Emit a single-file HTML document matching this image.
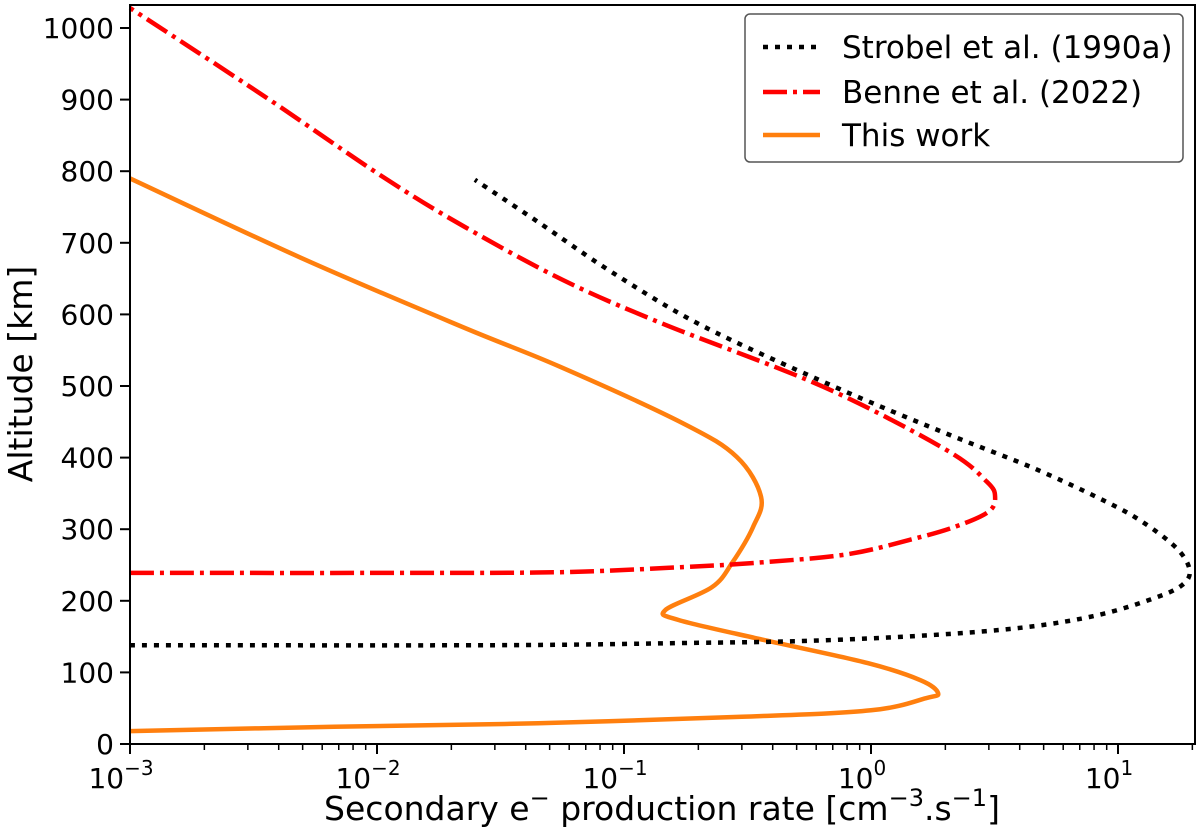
<!DOCTYPE html>
<html><head><meta charset="utf-8"><style>
html,body{margin:0;padding:0;background:#fff;}
svg{display:block;font-family:"DejaVu Sans","Liberation Sans",sans-serif;}
</style></head><body>
<svg id="chart" width="1200" height="836" viewBox="0 0 1200 836" xmlns="http://www.w3.org/2000/svg">
<g id="marks"></g>
<g id="axes"></g>
<text x="0" y="0" transform="translate(32,374) rotate(-90)" text-anchor="middle" font-size="33">Altitude [km]</text>
<text x="662" y="820" text-anchor="middle" font-size="33">Secondary e<tspan dy="-14" font-size="24">−</tspan><tspan dy="14"> production rate [cm</tspan><tspan dy="-14" font-size="24">−3</tspan><tspan dy="14">.s</tspan><tspan dy="-14" font-size="24">−1</tspan><tspan dy="14">]</tspan></text>
<g>
<rect x="745" y="14" width="438" height="148" rx="5" fill="#fff" stroke="#555" stroke-width="1.5"/>
<line x1="763" y1="47" x2="820" y2="47" stroke="#000" stroke-width="4.5" stroke-dasharray="5 7"/>
<text x="842" y="58" font-size="31">Strobel et al. (1990a)</text>
<line x1="763" y1="92" x2="820" y2="92" stroke="#f00" stroke-width="4.5" stroke-dasharray="24 6 4 6"/>
<text x="842" y="103" font-size="31">Benne et al. (2022)</text>
<line x1="763" y1="135" x2="820" y2="135" stroke="#ff7f0e" stroke-width="4.5"/>
<text x="842" y="146" font-size="31">This work</text>
</g>
</svg>
<script>
const strobelX = [0.001,0.03,0.173,0.55,1.73,4.2,8.3,14.1,18.2,19.5,17.2,12.2,8.3,4.5,2.33,1.23,0.64,0.205,0.0893,0.0449,0.0249];
const strobelAlt = [138,138,141,144,152,163,180,204,222,243,274,313,344,386,425,464,506,585,659,729,788];
const benneX = [0.001,0.0124,0.055,0.173,0.372,0.80,1.43,2.17,2.98,3.18,2.95,2.01,0.64,0.141,0.0566,0.0227,0.01057,0.00352,0.001];
const benneAlt = [239,239,240,247,254,265,285,303,324,345,366,411,499,588,648,722,792,904,1028];
const thisX = [0.001,0.0067,0.0449,0.30,1.0,1.67,1.87,1.59,0.97,0.372,0.167,0.147,0.227,0.274,0.333,0.359,0.286,0.173,0.055,0.0227,0.00492,0.001];
const thisAlt = [18,24,29,38,47,64,71,89,113,145,173,187,219,253,303,345,401,448,527,581,679,790];
const xTickLabels = ["−3","−2","−1","0","1"];
const yTicks = [0,100,200,300,400,500,600,700,800,900,1000];

const L=130,R=1195,T=5,B=744;
const sx=v=>L+(Math.log10(v)+3)*247;
const sy=a=>B-a*0.716;
const NS="http://www.w3.org/2000/svg";
const marks=document.getElementById('marks'), axes=document.getElementById('axes');
function mk(tag,attrs,parent){const e=document.createElementNS(NS,tag);for(const k in attrs)e.setAttribute(k,attrs[k]);parent.appendChild(e);return e;}

const defs=mk('defs',{},marks);
const cp=mk('clipPath',{id:'clip'},defs);
mk('rect',{x:L-3,y:T,width:R-L+3,height:B-T},cp);

function smoothPath(pts){
  let d='M'+pts[0][0].toFixed(1)+','+pts[0][1].toFixed(1);
  for(let i=0;i<pts.length-1;i++){
    const p0=pts[Math.max(i-1,0)],p1=pts[i],p2=pts[i+1],p3=pts[Math.min(i+2,pts.length-1)];
    const c1x=p1[0]+(p2[0]-p0[0])/6,c1y=p1[1]+(p2[1]-p0[1])/6;
    const c2x=p2[0]-(p3[0]-p1[0])/6,c2y=p2[1]-(p3[1]-p1[1])/6;
    d+=' C'+c1x.toFixed(1)+','+c1y.toFixed(1)+' '+c2x.toFixed(1)+','+c2y.toFixed(1)+' '+p2[0].toFixed(1)+','+p2[1].toFixed(1);
  }
  return d;
}
function series(xs,ys,color,dash,name){
  const pts=xs.map((x,i)=>[sx(x),sy(ys[i])]);
  const p=mk('path',{d:smoothPath(pts),fill:'none',stroke:color,'stroke-width':4.5,'stroke-linejoin':'round','clip-path':'url(#clip)'},marks);
  if(dash)p.setAttribute('stroke-dasharray',dash);
  
  
}
series(thisX,thisAlt,'#ff7f0e',null,'this-work-line');
series(benneX,benneAlt,'#f00','24 6 4 6','benne-2022-line');
series(strobelX,strobelAlt,'#000','5 7','strobel-1990a-line');

const frame=mk('rect',{x:L,y:T,width:R-L,height:B-T,fill:'none',stroke:'#000','stroke-width':2},axes);



xTickLabels.forEach((lab,i)=>{
  const e=i-3, x=sx(Math.pow(10,e));
  const t=mk('line',{x1:x,y1:B,x2:x,y2:B+10,stroke:'#000','stroke-width':2},axes);
  
  
  const tx=mk('text',{x:x-9,y:B+44,'text-anchor':'middle','font-size':28},axes);
  
  
  tx.textContent='10';
  const sup=mk('tspan',{dy:-13,'font-size':20},tx);
  sup.textContent=lab;
  if(i<4){for(let m=2;m<=9;m++){const mx=sx(m*Math.pow(10,e));
    const mt=mk('line',{x1:mx,y1:B,x2:mx,y2:B+6,stroke:'#000','stroke-width':1.5},axes);
    
    }}
  else{const mx=sx(20); if(mx<=R+1){const mt=mk('line',{x1:mx,y1:B,x2:mx,y2:B+6,stroke:'#000','stroke-width':1.5},axes);
    
    }}
});
yTicks.forEach(v=>{
  const y=sy(v);
  const t=mk('line',{x1:L-10,y1:y,x2:L,y2:y,stroke:'#000','stroke-width':2},axes);
  
  
  const tx=mk('text',{x:L-16,y:y+10,'text-anchor':'end','font-size':28},axes);
  
  
  tx.textContent=v;
});
</script>
</body></html>
